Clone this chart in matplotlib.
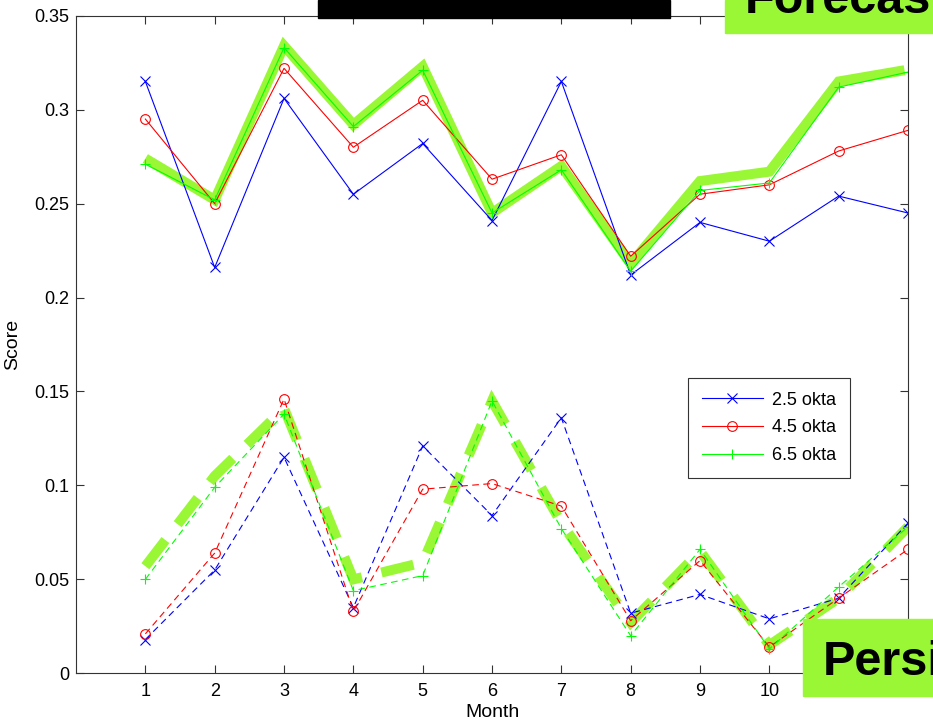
import numpy as np
import matplotlib
matplotlib.use("Agg")
import matplotlib.pyplot as plt
from matplotlib.patches import Rectangle

months = list(range(1, 13))

# forecast scores (solid lines)
fc_25 = [0.315, 0.216, 0.306, 0.255, 0.282, 0.241, 0.315, 0.212, 0.240, 0.230, 0.254, 0.245]
fc_45 = [0.295, 0.250, 0.322, 0.280, 0.305, 0.263, 0.276, 0.222, 0.255, 0.260, 0.278, 0.289]
fc_65 = [0.271, 0.252, 0.333, 0.291, 0.321, 0.245, 0.268, 0.214, 0.257, 0.261, 0.312, 0.320]

# persistence scores (dashed lines)
ps_25 = [0.018, 0.055, 0.115, 0.035, 0.121, 0.084, 0.136, 0.032, 0.042, 0.029, 0.040, 0.080]
ps_45 = [0.021, 0.064, 0.146, 0.033, 0.098, 0.101, 0.089, 0.028, 0.060, 0.014, 0.040, 0.066]
ps_65 = [0.050, 0.099, 0.138, 0.044, 0.052, 0.145, 0.077, 0.020, 0.066, 0.013, 0.046, 0.078]

# hand-drawn highlight strokes over the 6.5 okta curves
hl_fc = [0.274, 0.252, 0.334, 0.292, 0.323, 0.245, 0.270, 0.218, 0.262, 0.267, 0.315, 0.321]
hl_ps = [0.057, 0.105, 0.141, 0.050, 0.059, 0.145, 0.080, 0.027, 0.065, 0.015, 0.040, 0.078]

labels = ["2.5 okta", "4.5 okta", "6.5 okta"]
colors = ["#0000ff", "#ff0000", "#00ff00"]
markers = ["x", "o", "+"]
lime = "#99f736"

plt.rcParams['font.family'] = ['Liberation Sans', 'DejaVu Sans']

fig = plt.figure(figsize=(9.33, 7.28), dpi=100)
ax = fig.add_axes([0.0815, 0.0751, 0.8917, 0.9033])

# highlight strokes first so the thin data lines sit on top
ax.plot(months[:-1] + [11.95], hl_fc, color=lime, lw=7.2, solid_capstyle='butt',
        solid_joinstyle='miter', zorder=1)
ax.plot(months, hl_ps, color=lime, lw=7.2, dashes=(3.3, 2.0), dash_capstyle='butt',
        dash_joinstyle='miter', zorder=1)

for fc, c, m, lab in zip([fc_25, fc_45, fc_65], colors, markers, labels):
    ax.plot(months, fc, color=c, marker=m, ms=7, mew=0.8, mfc='none', lw=0.8,
            label=lab, zorder=2)
for ps, c, m in zip([ps_25, ps_45, ps_65], colors, markers):
    ax.plot(months, ps, color=c, marker=m, ms=7, mew=0.8, mfc='none', lw=0.8,
            dashes=(6, 4), zorder=2)

ax.set_xlim(0, 12)
ax.set_ylim(0, 0.35)
ax.set_xticks(months)
ax.set_yticks(np.arange(0, 0.351, 0.05))
ax.set_yticklabels(["0", "0.05", "0.1", "0.15", "0.2", "0.25", "0.3", "0.35"])
ax.tick_params(direction='in', top=True, right=True, length=6, width=0.8,
               labelsize=13, colors='#333333', labelcolor='black')
ax.tick_params(axis='x', pad=7)
ax.tick_params(axis='y', pad=5)
for s in ax.spines.values():
    s.set_linewidth(0.8)
    s.set_color('#333333')
ax.set_xlabel("Month", fontsize=14, labelpad=3)
ax.set_ylabel("Score", fontsize=14, labelpad=9)

leg = ax.legend(loc='upper right', bbox_to_anchor=(0.930, 0.449), fontsize=13,
                fancybox=False, edgecolor='#333333', framealpha=1,
                handlelength=3.4, borderpad=0.75, labelspacing=0.6,
                handletextpad=0.5, borderaxespad=0)
leg.get_frame().set_linewidth(0.8)

# overlay boxes
fig.add_artist(Rectangle((318 / 933, 1 - 18 / 728), 352 / 933, 18 / 728,
                         transform=fig.transFigure, color='black', zorder=5))
fig.add_artist(Rectangle((725 / 933, 1 - 33 / 728), 208 / 933, 33 / 728,
                         transform=fig.transFigure, color=lime, zorder=5))
fig.text(745 / 933, 1 - 13 / 728, "Forecast", fontsize=35, fontweight='bold',
         va='baseline', ha='left', zorder=6)
fig.add_artist(Rectangle((803 / 933, 1 - 696 / 728), 130 / 933, 77 / 728,
                         transform=fig.transFigure, color=lime, zorder=5))
fig.text(823 / 933, 1 - 675 / 728, "Persistence", fontsize=35, fontweight='bold',
         va='baseline', ha='left', zorder=6)

fig.savefig("out.png", dpi=100)
